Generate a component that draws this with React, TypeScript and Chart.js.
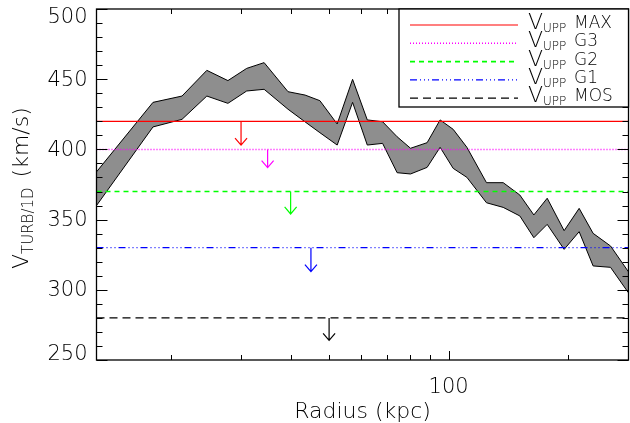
import React, { useEffect, useRef } from "react";
import { Chart, registerables } from "chart.js";

Chart.register(...registerables);

// ---- data ----
const radius = [12.97, 18.0, 21.3, 24.6, 27.8, 31.0, 34.3, 39.4, 43.5, 47.4, 52.4, 57.3, 62.4, 68.2, 74.2, 80.2, 88.3, 95.2, 102.7, 111.2, 124.6, 137.3, 151.2, 164.0, 177.2, 195.5, 213.3, 231.3, 255.9, 283.8];
const upper = [384, 433.5, 438, 456.3, 449, 457.7, 461.8, 441.1, 438.7, 434.7, 418.1, 449.9, 421, 419.7, 409, 400.8, 404.8, 421, 414.3, 401.5, 376.3, 376.3, 367.5, 353.3, 365.2, 342.1, 358, 340.2, 331.2, 312.9];
const lower = [360, 416, 421.4, 438, 432.8, 441.6, 442.8, 428.6, 419.6, 411.9, 403.1, 433.5, 403.1, 404.3, 383.4, 382.5, 387.2, 401.5, 386.5, 380.1, 362, 358.7, 352.6, 337.1, 346.6, 328.8, 341.4, 317, 316, 297.9];

const limitNames = ["MAX", "G3", "G2", "G1", "MOS"];
const limitValues = [420, 400, 370, 330, 280];
const limitColors = ["#ff0000", "#ff00ff", "#00ff00", "#0000ff", "#000000"];
const limitWidths = [1.2, 1.5, 1.6, 1.2, 1.2];
const limitDashes: number[][] = [[], [1, 2], [5, 4], [7, 3, 1, 3, 1, 3, 1, 3], [8, 5]];
const arrowRadius = [30, 35, 40, 45, 50];
const arrowEnd = [403, 387, 354, 313, 264];

const xMin = 12.97;
const xMax = 284;
const yMin = 250;
const yMax = 500;
const yMajorTicks = [250, 300, 350, 400, 450, 500];
const xMajorTicks = [100];
const xMinorTicks = [20, 30, 40, 50, 60, 70, 80, 90, 200];
const xTickLabels = ["100"];

const FONT = '"DejaVu Sans", "Liberation Sans", sans-serif';

const overlay = {
  id: "overlay",
  afterDraw(chart: any) {
    const { ctx, chartArea: a } = chart;
    const x = chart.scales.x;
    const y = chart.scales.y;
    ctx.save();

    // arrows
    arrowRadius.forEach((r, i) => {
      const px = x.getPixelForValue(r);
      const y0 = y.getPixelForValue(limitValues[i]);
      const y1 = y.getPixelForValue(arrowEnd[i]);
      ctx.strokeStyle = limitColors[i];
      ctx.lineWidth = 1.2;
      ctx.setLineDash([]);
      ctx.beginPath();
      ctx.moveTo(px, y0);
      ctx.lineTo(px, y1);
      ctx.moveTo(px - 6, y1 - 7);
      ctx.lineTo(px, y1);
      ctx.lineTo(px + 6, y1 - 7);
      ctx.stroke();
    });

    // frame
    ctx.strokeStyle = "#000";
    ctx.lineWidth = 1.3;
    ctx.setLineDash([]);
    ctx.strokeRect(a.left, a.top, a.right - a.left, a.bottom - a.top);

    // y ticks
    ctx.lineWidth = 1;
    for (let v = yMin; v <= yMax; v += 10) {
      const py = Math.round(y.getPixelForValue(v)) + 0.5;
      const len = yMajorTicks.includes(v) ? 11 : 6;
      ctx.beginPath();
      ctx.moveTo(a.left, py);
      ctx.lineTo(a.left + len, py);
      ctx.moveTo(a.right, py);
      ctx.lineTo(a.right - len, py);
      ctx.stroke();
    }
    // x ticks
    const xt = (vals: number[], len: number) => {
      vals.forEach((v) => {
        const px = Math.round(x.getPixelForValue(v)) + 0.5;
        ctx.beginPath();
        ctx.moveTo(px, a.bottom);
        ctx.lineTo(px, a.bottom - len);
        ctx.moveTo(px, a.top);
        ctx.lineTo(px, a.top + len);
        ctx.stroke();
      });
    };
    xt(xMinorTicks, 5);
    xt(xMajorTicks, 9);

    // tick labels
    ctx.fillStyle = "#000";
    ctx.font = `200 21px ${FONT}`;
    ctx.textAlign = "right";
    ctx.textBaseline = "middle";
    yMajorTicks.forEach((v) => {
      let py = y.getPixelForValue(v) + 1;
      py = Math.min(Math.max(py, a.top + 9), a.bottom - 5);
      ctx.fillText(String(v), a.left - 9, py);
    });
    ctx.textAlign = "center";
    ctx.textBaseline = "alphabetic";
    xMajorTicks.forEach((v, i) => {
      ctx.fillText(xTickLabels[i], x.getPixelForValue(v), 393);
    });

    // x title
    ctx.font = `200 22px ${FONT}`;
    ctx.fillText("Radius (kpc)", (a.left + a.right) / 2, 418);

    // y title
    ctx.save();
    ctx.translate(28, 269);
    ctx.rotate(-Math.PI / 2);
    ctx.textAlign = "left";
    ctx.font = `200 22px ${FONT}`;
    ctx.fillText("V", 0, 0);
    let cx = ctx.measureText("V").width;
    ctx.font = `200 15px ${FONT}`;
    ctx.fillText("TURB/1D", cx, 5);
    cx += ctx.measureText("TURB/1D").width + 10;
    ctx.font = `200 22px ${FONT}`;
    ctx.fillText("(km/s)", cx, 0);
    ctx.restore();

    // legend
    const lx0 = 399;
    const lBottom = 107;
    ctx.fillStyle = "#fff";
    ctx.fillRect(lx0, a.top, a.right - lx0, lBottom - a.top);
    ctx.strokeStyle = "#000";
    ctx.lineWidth = 1.3;
    ctx.strokeRect(lx0, a.top, a.right - lx0, lBottom - a.top);
    limitNames.forEach((name, i) => {
      const ly = a.top + 16 + i * 18.3;
      ctx.strokeStyle = limitColors[i];
      ctx.lineWidth = limitWidths[i];
      ctx.setLineDash(limitDashes[i]);
      ctx.beginPath();
      ctx.moveTo(410, ly);
      ctx.lineTo(518, ly);
      ctx.stroke();
      ctx.setLineDash([]);
      ctx.fillStyle = "#000";
      ctx.textAlign = "left";
      ctx.font = `200 22px ${FONT}`;
      ctx.fillText("V", 528, ly + 4);
      ctx.font = `200 12px ${FONT}`;
      ctx.fillText("UPP", 543, ly + 7);
      ctx.font = `200 17px ${FONT}`;
      ctx.fillText(name, 574, ly + 3);
    });

    ctx.restore();
  },
};

export default function App() {
  const ref = useRef<HTMLCanvasElement | null>(null);
  useEffect(() => {
    if (!ref.current) return;
    const bandUpper = radius.map((r, i) => ({ x: r, y: upper[i] }));
    const bandLower = radius.map((r, i) => ({ x: r, y: lower[i] }));
    const limitSets = limitValues.map((v, i) => ({
      data: [
        { x: xMin, y: v },
        { x: xMax, y: v },
      ],
      borderColor: limitColors[i],
      borderWidth: limitWidths[i],
      borderDash: limitDashes[i],
      pointRadius: 0,
      fill: false,
      order: 0,
    }));
    const chart = new Chart(ref.current, {
      type: "line",
      data: {
        datasets: [
          {
            data: bandUpper,
            borderColor: "#000",
            borderWidth: 1,
            backgroundColor: "#8e8e8e",
            fill: "+1",
            pointRadius: 0,
            order: 10,
          },
          {
            data: bandLower,
            borderColor: "#000",
            borderWidth: 1,
            pointRadius: 0,
            fill: false,
            order: 9,
          },
          ...limitSets,
        ] as any,
      },
      options: {
        animation: false,
        responsive: false,
        maintainAspectRatio: false,
        layout: { padding: { left: 96.5, right: 1.5, top: 9, bottom: 63 } },
        plugins: {
          legend: { display: false },
          tooltip: { enabled: false },
        },
        elements: { line: { tension: 0 }, point: { radius: 0 } },
        scales: {
          x: { type: "logarithmic", min: xMin, max: xMax, display: false },
          y: { type: "linear", min: yMin, max: yMax, display: false },
        },
      },
      plugins: [overlay],
    });
    return () => chart.destroy();
  }, []);
  return (
    <div style={{ position: "absolute", left: 0, top: 0, width: 630, height: 423, background: "#fff" }}>
      <canvas ref={ref} width={630} height={423} style={{ display: "block", width: 630, height: 423 }} />
    </div>
  );
}
